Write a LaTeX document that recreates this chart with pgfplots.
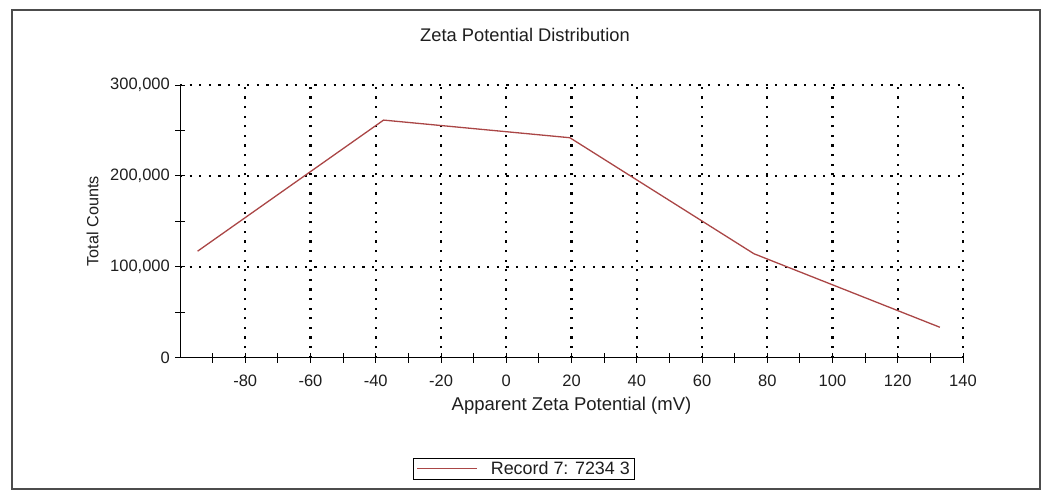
\documentclass[border=0pt]{standalone}
\usepackage{fontspec}
\setmainfont{Liberation Sans}
\usepackage{pgfplots}
\pgfplotsset{compat=1.18}
\definecolor{linecol}{RGB}{170,70,70}
\definecolor{txt}{RGB}{30,30,30}
\begin{document}
\begin{tikzpicture}[x=1pt,y=1pt]
\useasboundingbox (0,0) rectangle (1043,491);
\draw[black!70, line width=1.2pt] (12,2) rectangle (1040,481);
\node[anchor=base, font=\fontsize{18.3}{22}\selectfont, text=txt, inner sep=0pt] at (525,449.3) {Zeta Potential Distribution};
\begin{axis}[
  at={(180pt,133.3pt)}, anchor=south west,
  scale only axis, width=783pt, height=272.7pt,
  xmin=-100, xmax=140, ymin=0, ymax=300000,
  axis line style={draw=none},
  xtick pos=bottom, ytick pos=left,
  tick align=center,
  xtick={-80,-60,-40,-20,0,20,40,60,80,100,120,140},
  xticklabels={-80,-60,-40,-20,0,20,40,60,80,100,120,140},
  minor xtick={-90,-70,-50,-30,-10,10,30,50,70,90,110,130},
  ytick={100000,200000,300000},
  yticklabels={{100,000},{200,000},{300,000}},
  minor ytick={50000,150000,250000},
  extra y ticks={0},
  extra y tick labels={0},
  extra y tick style={grid=none},
  major tick length=10pt, minor tick length=10pt,
  every tick/.style={draw=black, line width=1pt},
  grid=major,
  major grid style={black, line width=2.2pt, dash pattern=on 2.2pt off 7.4pt},
  scaled y ticks=false,
  xticklabel style={font=\fontsize{16.5}{20}\selectfont, text=txt, inner sep=0pt, anchor=north, yshift=-12pt},
  yticklabel style={font=\fontsize{16.5}{20}\selectfont, text=txt, inner sep=0pt, anchor=east, xshift=-5pt},
  xlabel={Apparent Zeta Potential (mV)},
  xlabel style={at={(axis description cs:0.5,-0.1918)}, anchor=base, font=\fontsize{18.5}{22}\selectfont, text=txt, inner sep=0pt},
  ylabel={Total Counts},
  ylabel style={at={(axis description cs:-0.1115,0.5)}, anchor=center, font=\fontsize{16.2}{20}\selectfont, text=txt, inner sep=0pt},
  legend style={at={(axis description cs:0.4396,-0.407)}, anchor=center, draw=black, line width=0.8pt,
    font=\fontsize{17.9}{21}\selectfont, text=txt, inner xsep=3pt, inner ysep=1pt},
  legend image code/.code={\draw[#1] (0pt,0pt) -- (60pt,0pt);},
]
\draw[black, line width=1pt] (rel axis cs:0,1) -- (rel axis cs:0,0) -- (rel axis cs:1,0);
\addplot[linecol, line width=1.3pt] coordinates {(-94.6,117200) (-37.6,261400) (19.5,242000) (75.9,114400) (132.9,33500)};
\addlegendentry{\hspace{11pt}Record 7: 7234 3}
\end{axis}
\end{tikzpicture}
\end{document}
